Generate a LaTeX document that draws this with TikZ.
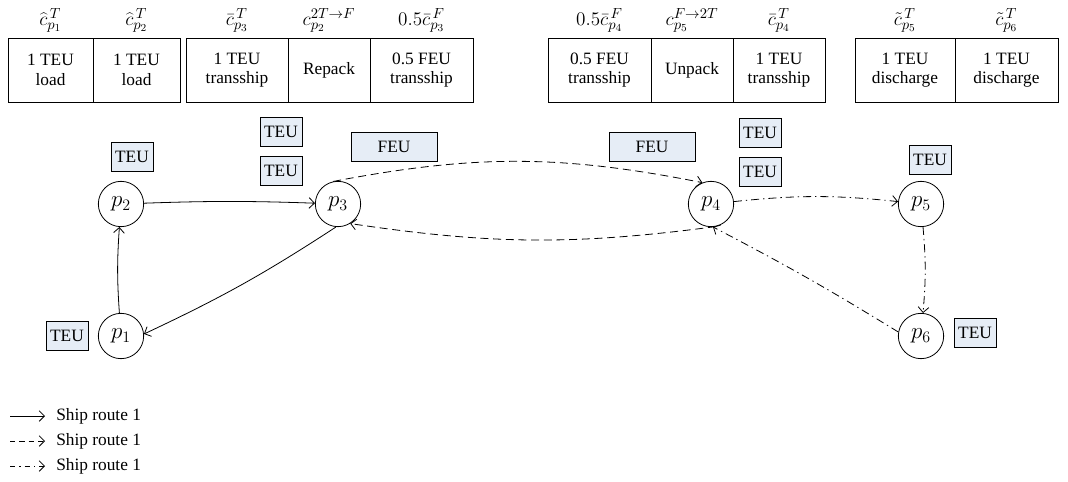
\documentclass[tikz,border=0pt]{standalone}
\usepackage{fontspec}
\setmainfont{Liberation Serif}
\usetikzlibrary{arrows.meta}
\definecolor{teufill}{RGB}{230,237,246}
\begin{document}
\begin{tikzpicture}[x=0.75pt,y=-0.75pt,
  font=\fontsize{13}{14.5}\selectfont,
  cbox/.style={draw, line width=0.6pt, minimum height=48pt, align=center, inner sep=1pt},
  clab/.style={inner sep=0pt, anchor=base, font=\fontsize{15.5}{17}\selectfont},
  port/.style={draw, circle, minimum size=34pt, inner sep=0pt, line width=0.6pt, font=\fontsize{17}{19}\selectfont},
  tag/.style={draw, fill=teufill, minimum width=31.5pt, minimum height=22pt, inner sep=1pt, line width=0.6pt},
  ftag/.style={tag, minimum width=64.5pt},
  arr/.style={-{Straight Barb[length=4pt,width=8pt]}, line width=0.6pt},
  dsh/.style={dash pattern=on 6pt off 3.5pt},
  dd/.style={dash pattern=on 6pt off 3pt on 1pt off 3pt}
]
\useasboundingbox (0,0) rectangle (1068,482);

% cost boxes
\node[cbox, minimum width=63.75pt] (b1) at (50.5,70) {1 TEU\\load};
\node[cbox, minimum width=65.25pt] (b2) at (136.5,70) {1 TEU\\load};
\node[cbox, minimum width=76.5pt] (b3) at (237,70) {1 TEU\\transship};
\node[cbox, minimum width=61.5pt] (b4) at (329,70) {Repack};
\node[cbox, minimum width=77.25pt] (b5) at (421.5,70) {0.5 FEU\\transship};
\node[cbox, minimum width=77.25pt] (b6) at (599.5,70) {0.5 FEU\\transship};
\node[cbox, minimum width=61.5pt] (b7) at (692,70) {Unpack};
\node[cbox, minimum width=69pt] (b8) at (779,70) {1 TEU\\transship};
\node[cbox, minimum width=75pt] (b9) at (905,70) {1 TEU\\discharge};
\node[cbox, minimum width=77.25pt] (b10) at (1006.5,70) {1 TEU\\discharge};

% cost labels
\node[clab] (c1) at (50.5,25) {$\widehat{c}^{\,T}_{p_1}$};
\node[clab] (c2) at (136.5,25) {$\widehat{c}^{\,T}_{p_2}$};
\node[clab] (c3) at (237,25) {$\bar{c}^{\,T}_{p_3}$};
\node[clab] (c4) at (329,25) {$c^{2T\rightarrow F}_{p_2}$};
\node[clab] (c5) at (421.5,25) {$0.5\bar{c}^{\,F}_{p_3}$};
\node[clab] (c6) at (599.5,25) {$0.5\bar{c}^{\,F}_{p_4}$};
\node[clab] (c7) at (692,25) {$c^{F\rightarrow 2T}_{p_5}$};
\node[clab] (c8) at (779,25) {$\bar{c}^{\,T}_{p_4}$};
\node[clab] (c9) at (905,25) {$\tilde{c}^{\,T}_{p_5}$};
\node[clab] (c10) at (1006.5,25) {$\tilde{c}^{\,T}_{p_6}$};

% ports
\node[port] (p1) at (121,336) {$p_1$};
\node[port] (p2) at (121,204) {$p_2$};
\node[port] (p3) at (338,204) {$p_3$};
\node[port] (p4) at (711,204) {$p_4$};
\node[port] (p5) at (921,204) {$p_5$};
\node[port] (p6) at (921,336) {$p_6$};

% container tags
\node[tag] (t1) at (67,336) {TEU};
\node[tag] (t2) at (132,157) {TEU};
\node[tag] (t3a) at (281,132) {TEU};
\node[tag] (t3b) at (281,171) {TEU};
\node[ftag] (f3) at (394,147) {FEU};
\node[ftag] (f4) at (652,147) {FEU};
\node[tag] (t4a) at (760,133) {TEU};
\node[tag] (t4b) at (760,172) {TEU};
\node[tag] (t5) at (930,160) {TEU};
\node[tag] (t6) at (975,333) {TEU};

% routes
\draw[arr] (p1) to[bend left=4] (p2);
\draw[arr] (p2) to[bend left=2] (p3);
\draw[arr] (p3.-95) to[bend left=4] (p1.5);
\draw[arr,dsh] (p3.102) to[bend left=11] (p4.112);
\draw[arr,dsh] (p4.-78) to[bend left=8] (p3.-58);
\draw[arr,dd] (p4) to[bend left=6] (p5);
\draw[arr,dd] (p5) to[bend left=5] (p6);
\draw[arr,dd] (p6.170) to[bend right=2] (p4.-85);

% legend
\coordinate (la1) at (10,416); \coordinate (lb1) at (45,416);
\coordinate (la2) at (10,441); \coordinate (lb2) at (45,441);
\coordinate (la3) at (10,466); \coordinate (lb3) at (45,466);
\draw[arr] (la1) -- (lb1);
\draw[arr,dash pattern=on 4pt off 3pt] (la2) -- (lb2);
\draw[arr,dash pattern=on 4pt off 3pt on 1pt off 3pt] (la3) -- (lb3);
\node[anchor=west, inner sep=0pt] (lt1) at (56,416) {Ship route 1};
\node[anchor=west, inner sep=0pt] (lt2) at (56,441) {Ship route 1};
\node[anchor=west, inner sep=0pt] (lt3) at (56,466) {Ship route 1};
\end{tikzpicture}
\end{document}
